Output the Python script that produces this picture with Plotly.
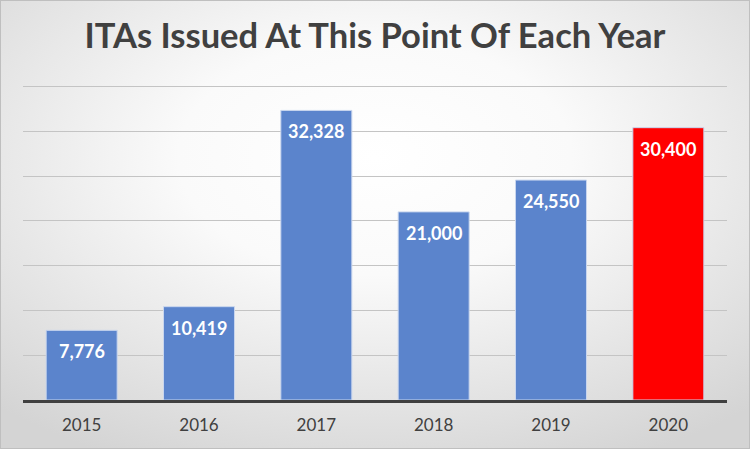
import base64
import plotly.graph_objects as go

years = ["2015", "2016", "2017", "2018", "2019", "2020"]
itas = [7776, 10419, 32328, 21000, 24550, 30400]
bar_colors = ["#5B84CC", "#5B84CC", "#5B84CC", "#5B84CC", "#5B84CC", "#FF0000"]
title_text = "ITAs Issued At This Point Of Each Year"
y_max = 35500
y_step = 5000

W, H = 750, 449
L, R, T, B = 23, 23, 82, 49
pw, ph = W - L - R, H - T - B

svg = f'''<svg xmlns="http://www.w3.org/2000/svg" width="{W}" height="{H}" viewBox="0 0 {W} {H}">
<defs><radialGradient id="g" cx="50%" cy="35%" r="75%">
<stop offset="0%" stop-color="#ffffff"/>
<stop offset="35%" stop-color="#fafafa"/>
<stop offset="100%" stop-color="#d4d4d4"/>
</radialGradient></defs>
<rect x="0" y="0" width="{W}" height="{H}" fill="url(#g)"/>
<rect x="0.5" y="0.5" width="{W-1}" height="{H-1}" fill="none" stroke="#bfbfbf" stroke-width="1"/>
</svg>'''
src = "data:image/svg+xml;base64," + base64.b64encode(svg.encode()).decode()

fig = go.Figure(go.Bar(
    x=years, y=itas,
    marker=dict(color=bar_colors, line=dict(color="#c9d6ee", width=1)),
    cliponaxis=False,
))

# category axis: annotation x is the category index
annotations = [
    dict(x=i, y=v, xref="x", yref="y", text=f"{v:,}", showarrow=False,
         yanchor="top", yshift=-8,
         font=dict(family="Lato", size=18, color="white", weight="bold"))
    for i, v in enumerate(itas)
]

fig.update_layout(
    width=W, height=H,
    margin=dict(l=L, r=R, t=T, b=B),
    paper_bgcolor="#ececec", plot_bgcolor="rgba(0,0,0,0)",
    bargap=0.395,
    showlegend=False,
    annotations=annotations,
    title=dict(text=title_text, x=0.5, xanchor="center", y=0.92, yanchor="middle",
               font=dict(family="Lato", size=34.5, color="#404040", weight="bold")),
    images=[dict(source=src, xref="paper", yref="paper",
                 x=-L / pw, y=1 + T / ph, sizex=W / pw, sizey=H / ph,
                 sizing="stretch", xanchor="left", yanchor="top", layer="below")],
    xaxis=dict(type="category", range=[-0.5, len(years) - 0.5],
               showline=True, linecolor="#404040", linewidth=2.5, ticks="",
               ticklabelstandoff=8,
               tickfont=dict(family="Lato", size=17, color="#404040")),
    yaxis=dict(range=[0, y_max], dtick=y_step, showticklabels=False,
               showgrid=True, gridcolor="#c4c4c4", gridwidth=1.3, zeroline=False),
)

fig.write_html("out.html")
